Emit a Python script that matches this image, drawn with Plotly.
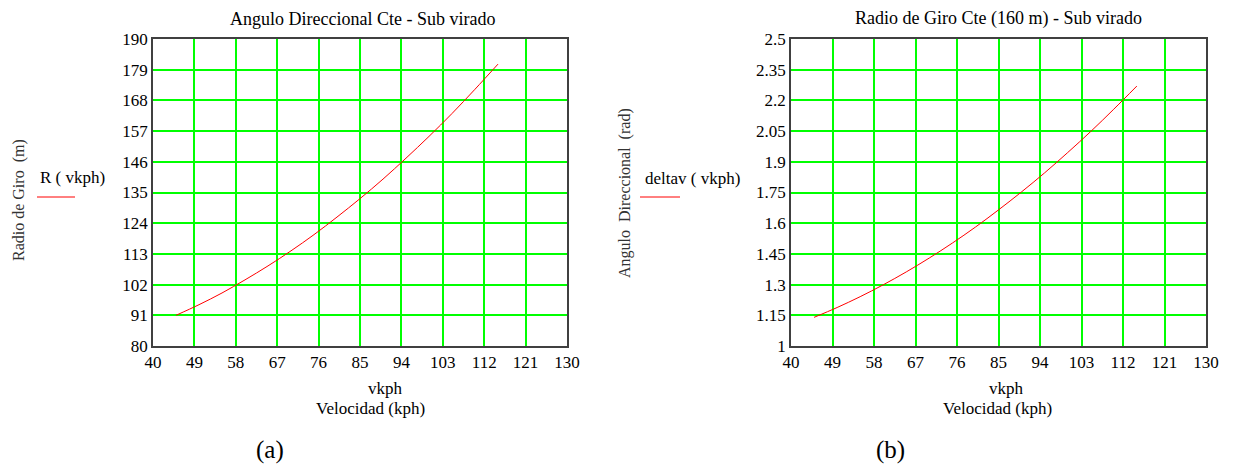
import plotly.graph_objects as go

# Data
vkph = [45, 50, 55, 60, 65, 70, 75, 80, 85, 90, 95, 100, 105, 110, 115]
R_vals = [91.0, 94.8, 99.0, 103.7, 108.7, 114.1, 119.9, 126.2, 132.8, 139.8, 147.3, 155.1, 163.3, 172.0, 181.0]
delta_vals = [1.14, 1.188, 1.241, 1.299, 1.362, 1.430, 1.503, 1.581, 1.665, 1.753, 1.846, 1.945, 2.048, 2.157, 2.27]

x_ticks = [40, 49, 58, 67, 76, 85, 94, 103, 112, 121, 130]
y1_ticks = [80, 91, 102, 113, 124, 135, 146, 157, 168, 179, 190]
y2_ticks = [1, 1.15, 1.3, 1.45, 1.6, 1.75, 1.9, 2.05, 2.2, 2.35, 2.5]
y2_labels = ["1", "1.15", "1.3", "1.45", "1.6", "1.75", "1.9", "2.05", "2.2", "2.35", "2.5"]

W, H = 1237, 467
FONT = "Liberation Serif"
GREEN = "#00ff00"
FRAME = "#404040"

fig = go.Figure()
fig.add_trace(go.Scatter(x=vkph, y=R_vals, mode="lines", line=dict(color="red", width=1, shape="spline"),
                         xaxis="x", yaxis="y", showlegend=False, hoverinfo="skip"))
fig.add_trace(go.Scatter(x=vkph, y=delta_vals, mode="lines", line=dict(color="red", width=1, shape="spline"),
                         xaxis="x2", yaxis="y2", showlegend=False, hoverinfo="skip"))

def px(x):
    return x / W

def py(y):
    return 1 - y / H

L1, R1 = 153, 567
L2, R2 = 791, 1206
T, B = 39, 346

axis_common = dict(showgrid=True, gridcolor=GREEN, gridwidth=1.5, showline=True, linecolor=FRAME,
                   linewidth=1.5, mirror=True, zeroline=False, ticks="", automargin=False,
                   tickfont=dict(family=FONT, size=17, color="black"))

fig.update_layout(
    width=W, height=H,
    margin=dict(l=0, r=0, t=0, b=0, pad=0),
    paper_bgcolor="white", plot_bgcolor="white",
    font=dict(family=FONT, size=16, color="black"),
    xaxis=dict(domain=[px(L1), px(R1)], range=[40, 130], tickvals=x_ticks, anchor="y", **axis_common),
    yaxis=dict(domain=[py(B), py(T)], range=[80, 190], tickvals=y1_ticks, anchor="x", **axis_common),
    xaxis2=dict(domain=[px(L2), px(R2)], range=[40, 130], tickvals=x_ticks, anchor="y2", **axis_common),
    yaxis2=dict(domain=[py(B), py(T)], range=[1, 2.5], tickvals=y2_ticks, ticktext=y2_labels,
                anchor="x2", **axis_common),
)

def ann(text, x, y, size=16, angle=0, color="black"):
    fig.add_annotation(text=text, x=px(x), y=py(y), xref="paper", yref="paper", showarrow=False,
                       font=dict(family=FONT, size=size, color=color), textangle=angle,
                       xanchor="center", yanchor="middle")

# Titles
ann("Angulo Direccional Cte - Sub virado", 362, 19, size=18)
ann("Radio de Giro Cte (160 m) - Sub virado", 998, 19, size=18)
# Y titles
ann("Radio de Giro  (m)", 19, 200, size=16, angle=-90, color="#333333")
ann("Angulo  Direccional  (rad)", 625, 193, size=16, angle=-90, color="#333333")
# Legends
ann("R ( vkph)", 72, 177, size=17)
ann("deltav ( vkph)", 692, 178, size=17)
fig.add_shape(type="line", xref="paper", yref="paper", x0=px(37), x1=px(75), y0=py(197), y1=py(197),
              line=dict(color="red", width=1))
fig.add_shape(type="line", xref="paper", yref="paper", x0=px(640), x1=px(680), y0=py(197), y1=py(197),
              line=dict(color="red", width=1))
# X titles
ann("vkph", 385, 388, size=17)
ann("Velocidad (kph)", 370, 408, size=17)
ann("vkph", 1006, 388, size=17)
ann("Velocidad (kph)", 997, 408, size=17)
# Panel labels
ann("(a)", 270, 450, size=25)
ann("(b)", 890, 450, size=25)

fig.write_html("out.html", config={"displayModeBar": False},
               post_script="document.body.style.margin='0px';document.body.style.overflow='hidden';")
